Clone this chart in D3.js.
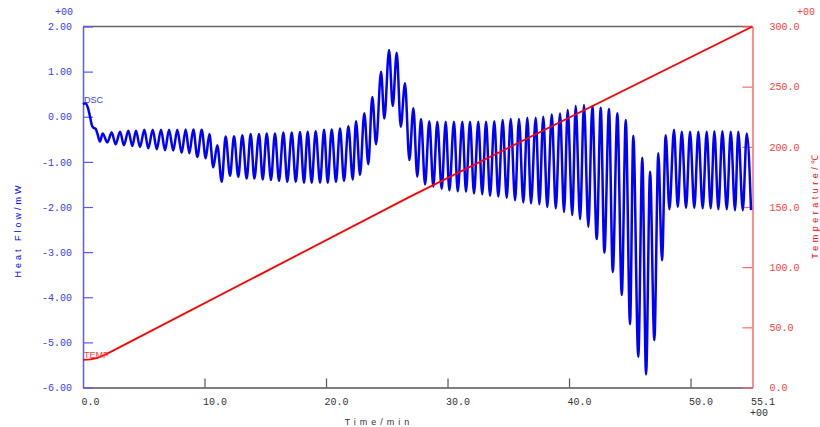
<!DOCTYPE html>
<html><head><meta charset="utf-8">
<script src="https://cdn.jsdelivr.net/npm/d3@7"></script>
<style>
html,body{margin:0;padding:0;background:#fff;}
svg{display:block;}
.tk{font-family:"Liberation Mono","DejaVu Sans Mono",monospace;font-size:10px;}
</style>
</head><body>
<svg id="c" width="820" height="427"></svg>
<script>
// ---- data ----
const xTicks = [0, 10, 20, 30, 40, 50, 55.1];
const xTickLabels = ["0.0", "10.0", "20.0", "30.0", "40.0", "50.0", "55.1"];
const heatTicks = [2, 1, 0, -1, -2, -3, -4, -5, -6];
const heatTickLabels = ["2.00", "1.00", "0.00", "-1.00", "-2.00", "-3.00", "-4.00", "-5.00", "-6.00"];
const tempTicks = [300, 250, 200, 150, 100, 50, 0];
const tempTickLabels = ["300.0", "250.0", "200.0", "150.0", "100.0", "50.0", "0.0"];

// DSC heat flow (mW) vs time (min), read at turning points of the modulated signal
const dscTime = [0, 0.2, 0.4, 0.58, 0.72, 0.85, 1.05, 1.18, 1.40,
  1.62, 2.00, 2.36, 2.69, 3.05, 3.37, 3.73, 4.06, 4.36, 4.69, 5.05, 5.37, 5.74, 6.07, 6.42, 6.75,
  7.08, 7.43, 7.76, 8.12, 8.45, 8.75, 9.08, 9.41, 9.77, 10.10, 10.40, 10.72, 11.05, 11.42,
  11.74, 12.10, 12.43, 12.78, 13.11, 13.47, 13.80, 14.10, 14.49, 14.79, 15.12, 15.47, 15.80, 16.13,
  16.49, 16.81, 17.18, 17.51, 17.86, 18.19, 18.49, 18.82, 19.15, 19.51, 19.84, 20.14, 20.47, 20.82,
  21.15, 21.48, 21.84, 22.20, 22.47, 22.80, 23.15, 23.48, 23.81, 24.12, 24.53, 24.80, 25.19, 25.49,
  25.82, 26.15, 26.50, 26.86, 27.19, 27.51, 27.82, 28.15, 28.50, 28.83, 29.16, 29.52, 29.85, 30.15,
  30.53, 30.84, 31.22, 31.52, 31.85, 32.18, 32.53, 32.86, 33.17, 33.50, 33.85, 34.18, 34.54, 34.87,
  35.20, 35.56, 35.88, 36.24, 36.57, 36.87, 37.26, 37.56, 37.88, 38.21, 38.58, 38.91, 39.26, 39.59,
  39.89, 40.27, 40.55, 40.91, 41.23, 41.59, 41.92, 42.28, 42.61, 42.91, 43.29, 43.60, 43.98, 44.34,
  44.67, 45.02, 45.29, 45.70, 46.03, 46.34, 46.67, 47.02, 47.35, 47.65, 47.96, 48.26, 48.64, 48.95,
  49.28, 49.63, 49.96, 50.31, 50.64, 51.00, 51.33, 51.66, 51.96, 52.29, 52.62, 52.98, 53.31, 53.66,
  53.93, 54.30, 54.63, 54.98];
const dscFlow = [0.28, 0.30, 0.20, 0.00, -0.18, -0.24, -0.27, -0.37, -0.55,
  -0.37, -0.57, -0.35, -0.61, -0.33, -0.63, -0.31, -0.65, -0.31, -0.67, -0.29, -0.70, -0.29, -0.72, -0.29, -0.74,
  -0.29, -0.75, -0.29, -0.80, -0.28, -0.81, -0.28, -0.89, -0.29, -0.92, -0.38, -1.12, -0.63, -1.44,
  -0.44, -1.31, -0.43, -1.33, -0.41, -1.37, -0.38, -1.37, -0.38, -1.39, -0.37, -1.40, -0.37, -1.42,
  -0.35, -1.44, -0.35, -1.44, -0.34, -1.46, -0.33, -1.46, -0.32, -1.46, -0.29, -1.46, -0.28, -1.44,
  -0.26, -1.42, -0.21, -1.39, -0.10, -1.29, 0.08, -1.05, 0.44, -0.61, 1.00, -0.04, 1.48, 0.24,
  1.42, -0.22, 0.74, -0.96, 0.19, -1.33, -0.05, -1.50, -0.10, -1.55, -0.11, -1.60, -0.11, -1.63,
  -0.11, -1.65, -0.11, -1.66, -0.11, -1.70, -0.11, -1.72, -0.11, -1.75, -0.10, -1.77, -0.07, -1.80,
  -0.05, -1.85, -0.05, -1.90, -0.02, -1.92, -0.02, -1.94, 0.00, -2.00, 0.05, -2.03, 0.07, -2.11,
  0.15, -2.18, 0.24, -2.27, 0.26, -2.44, 0.24, -2.71, 0.20, -3.01, 0.17, -3.44, 0.08, -3.95,
  -0.07, -4.60, -0.42, -5.32, -0.91, -5.71, -1.22, -4.95, -0.81, -3.18, -0.41, -2.05, -0.29, -2.00,
  -0.33, -2.02, -0.33, -2.02, -0.33, -2.03, -0.33, -2.03, -0.32, -2.05, -0.32, -2.05, -0.33, -2.07,
  -0.33, -2.07, -0.37, -2.07];

// Temperature program (°C) vs time (min)
const tempTime = [0, 0.6, 1.2, 1.8, 2.4, 27.0, 55.1];
const tempValue = [22.9, 23.3, 24.6, 27.2, 30.2, 159.0, 300.0];

// ---- chart ----
const svg = d3.select("#c");
const m = {l: 83, r: 752.5, t: 26.5, b: 387.5};
const x = d3.scaleLinear().domain([0, 55.1]).range([m.l, m.r]);
const yL = d3.scaleLinear().domain([-6, 2]).range([m.b, m.t]);
const yR = d3.scaleLinear().domain([0, 300]).range([m.b, m.t]);

const BLUE = "#0000ff", RED = "#ff0000";
const AXBLUE = "#5a5aff", AXRED = "#ff6a6a", GRAY = "#555";

// frame top
svg.append("line").attr("x1", m.l).attr("x2", m.r).attr("y1", m.t).attr("y2", m.t)
  .attr("stroke", "#666").attr("stroke-width", 1.3);

// bottom axis
const gx = svg.append("g").attr("transform", `translate(0,${m.b})`)
  .call(d3.axisBottom(x).tickValues(xTicks).tickSizeInner(-9).tickSizeOuter(0).tickPadding(10)
    .tickFormat((d, i) => xTickLabels[i]));
gx.select(".domain").attr("stroke", GRAY).attr("stroke-width", 1.5);
gx.selectAll(".tick line").attr("stroke", GRAY).attr("stroke-width", 1.2);
gx.selectAll(".tick text").attr("class", "tk").attr("fill", "#333").attr("text-anchor", "start").attr("dx", -2);
gx.selectAll(".tick").filter((d, i) => i === 0 || i === xTicks.length - 1).select("line").remove();

// left axis
const gl = svg.append("g").attr("transform", `translate(${m.l},0)`)
  .call(d3.axisLeft(yL).tickValues(heatTicks).tickSizeInner(-10).tickSizeOuter(0).tickPadding(11)
    .tickFormat((d, i) => heatTickLabels[i]));
gl.select(".domain").attr("stroke", AXBLUE).attr("stroke-width", 1.5);
gl.selectAll(".tick line").attr("stroke", AXBLUE).attr("stroke-width", 1.2);
gl.selectAll(".tick text").attr("class", "tk").attr("fill", "#3a3aff");

// right axis
const gr = svg.append("g").attr("transform", `translate(${m.r},0)`)
  .call(d3.axisRight(yR).tickValues(tempTicks).tickSizeInner(-10).tickSizeOuter(0).tickPadding(17)
    .tickFormat((d, i) => tempTickLabels[i]));
gr.select(".domain").attr("stroke", AXRED).attr("stroke-width", 1.5);
gr.selectAll(".tick line").attr("stroke", AXRED).attr("stroke-width", 1.2);
gr.selectAll(".tick text").attr("class", "tk").attr("fill", "#ff3a3a");

// exponent markers
svg.append("text").attr("class", "tk").attr("x", 55).attr("y", 15).attr("fill", "#3a3aff").text("+00");
svg.append("text").attr("class", "tk").attr("x", 797).attr("y", 15).attr("fill", "#ff3a3a").text("+00");
svg.append("text").attr("class", "tk").attr("x", 750).attr("y", 416).attr("fill", "#333").text("+00");

// axis titles
svg.append("text").attr("transform", "translate(21,230) rotate(-90)")
  .attr("text-anchor", "middle").attr("fill", BLUE)
  .style("font-family", "Liberation Sans, Arial, sans-serif").style("font-size", "9px").style("letter-spacing", "3px")
  .text("Heat Flow/mW");
svg.append("text").attr("transform", "translate(818,205) rotate(-90)")
  .attr("text-anchor", "middle").attr("fill", RED)
  .style("font-family", "Liberation Sans, Arial, sans-serif").style("font-size", "9px").style("letter-spacing", "3.5px")
  .text("Temperature/℃");
svg.append("text").attr("x", 379).attr("y", 425)
  .attr("text-anchor", "middle").attr("fill", "#333")
  .style("font-family", "Liberation Sans, Arial, sans-serif").style("font-size", "9px").style("letter-spacing", "4px")
  .text("Time/min");

// series
const dsc = dscTime.map((t, i) => [t, dscFlow[i]]);
const temp = tempTime.map((t, i) => [t, tempValue[i]]);

svg.append("path").datum(dsc)
  .attr("fill", "none").attr("stroke", BLUE).attr("stroke-width", 2.5).attr("stroke-linejoin", "round")
  .attr("d", d3.line().x(d => x(d[0])).y(d => yL(d[1])).curve(d3.curveMonotoneX));

svg.append("path").datum(temp)
  .attr("fill", "none").attr("stroke", RED).attr("stroke-width", 1.8).attr("stroke-linejoin", "round")
  .attr("d", d3.line().x(d => x(d[0])).y(d => yR(d[1])));

// series labels
svg.append("text").attr("x", x(0) + 1).attr("y", 103).attr("fill", "#3a3aff")
  .style("font-family", "Liberation Sans, Arial, sans-serif").style("font-size", "9px").text("DSC");
svg.append("text").attr("x", x(0) + 1).attr("y", 358).attr("fill", "#ff3a3a")
  .style("font-family", "Liberation Sans, Arial, sans-serif").style("font-size", "9px").text("TEMP");
</script>
</body></html>
